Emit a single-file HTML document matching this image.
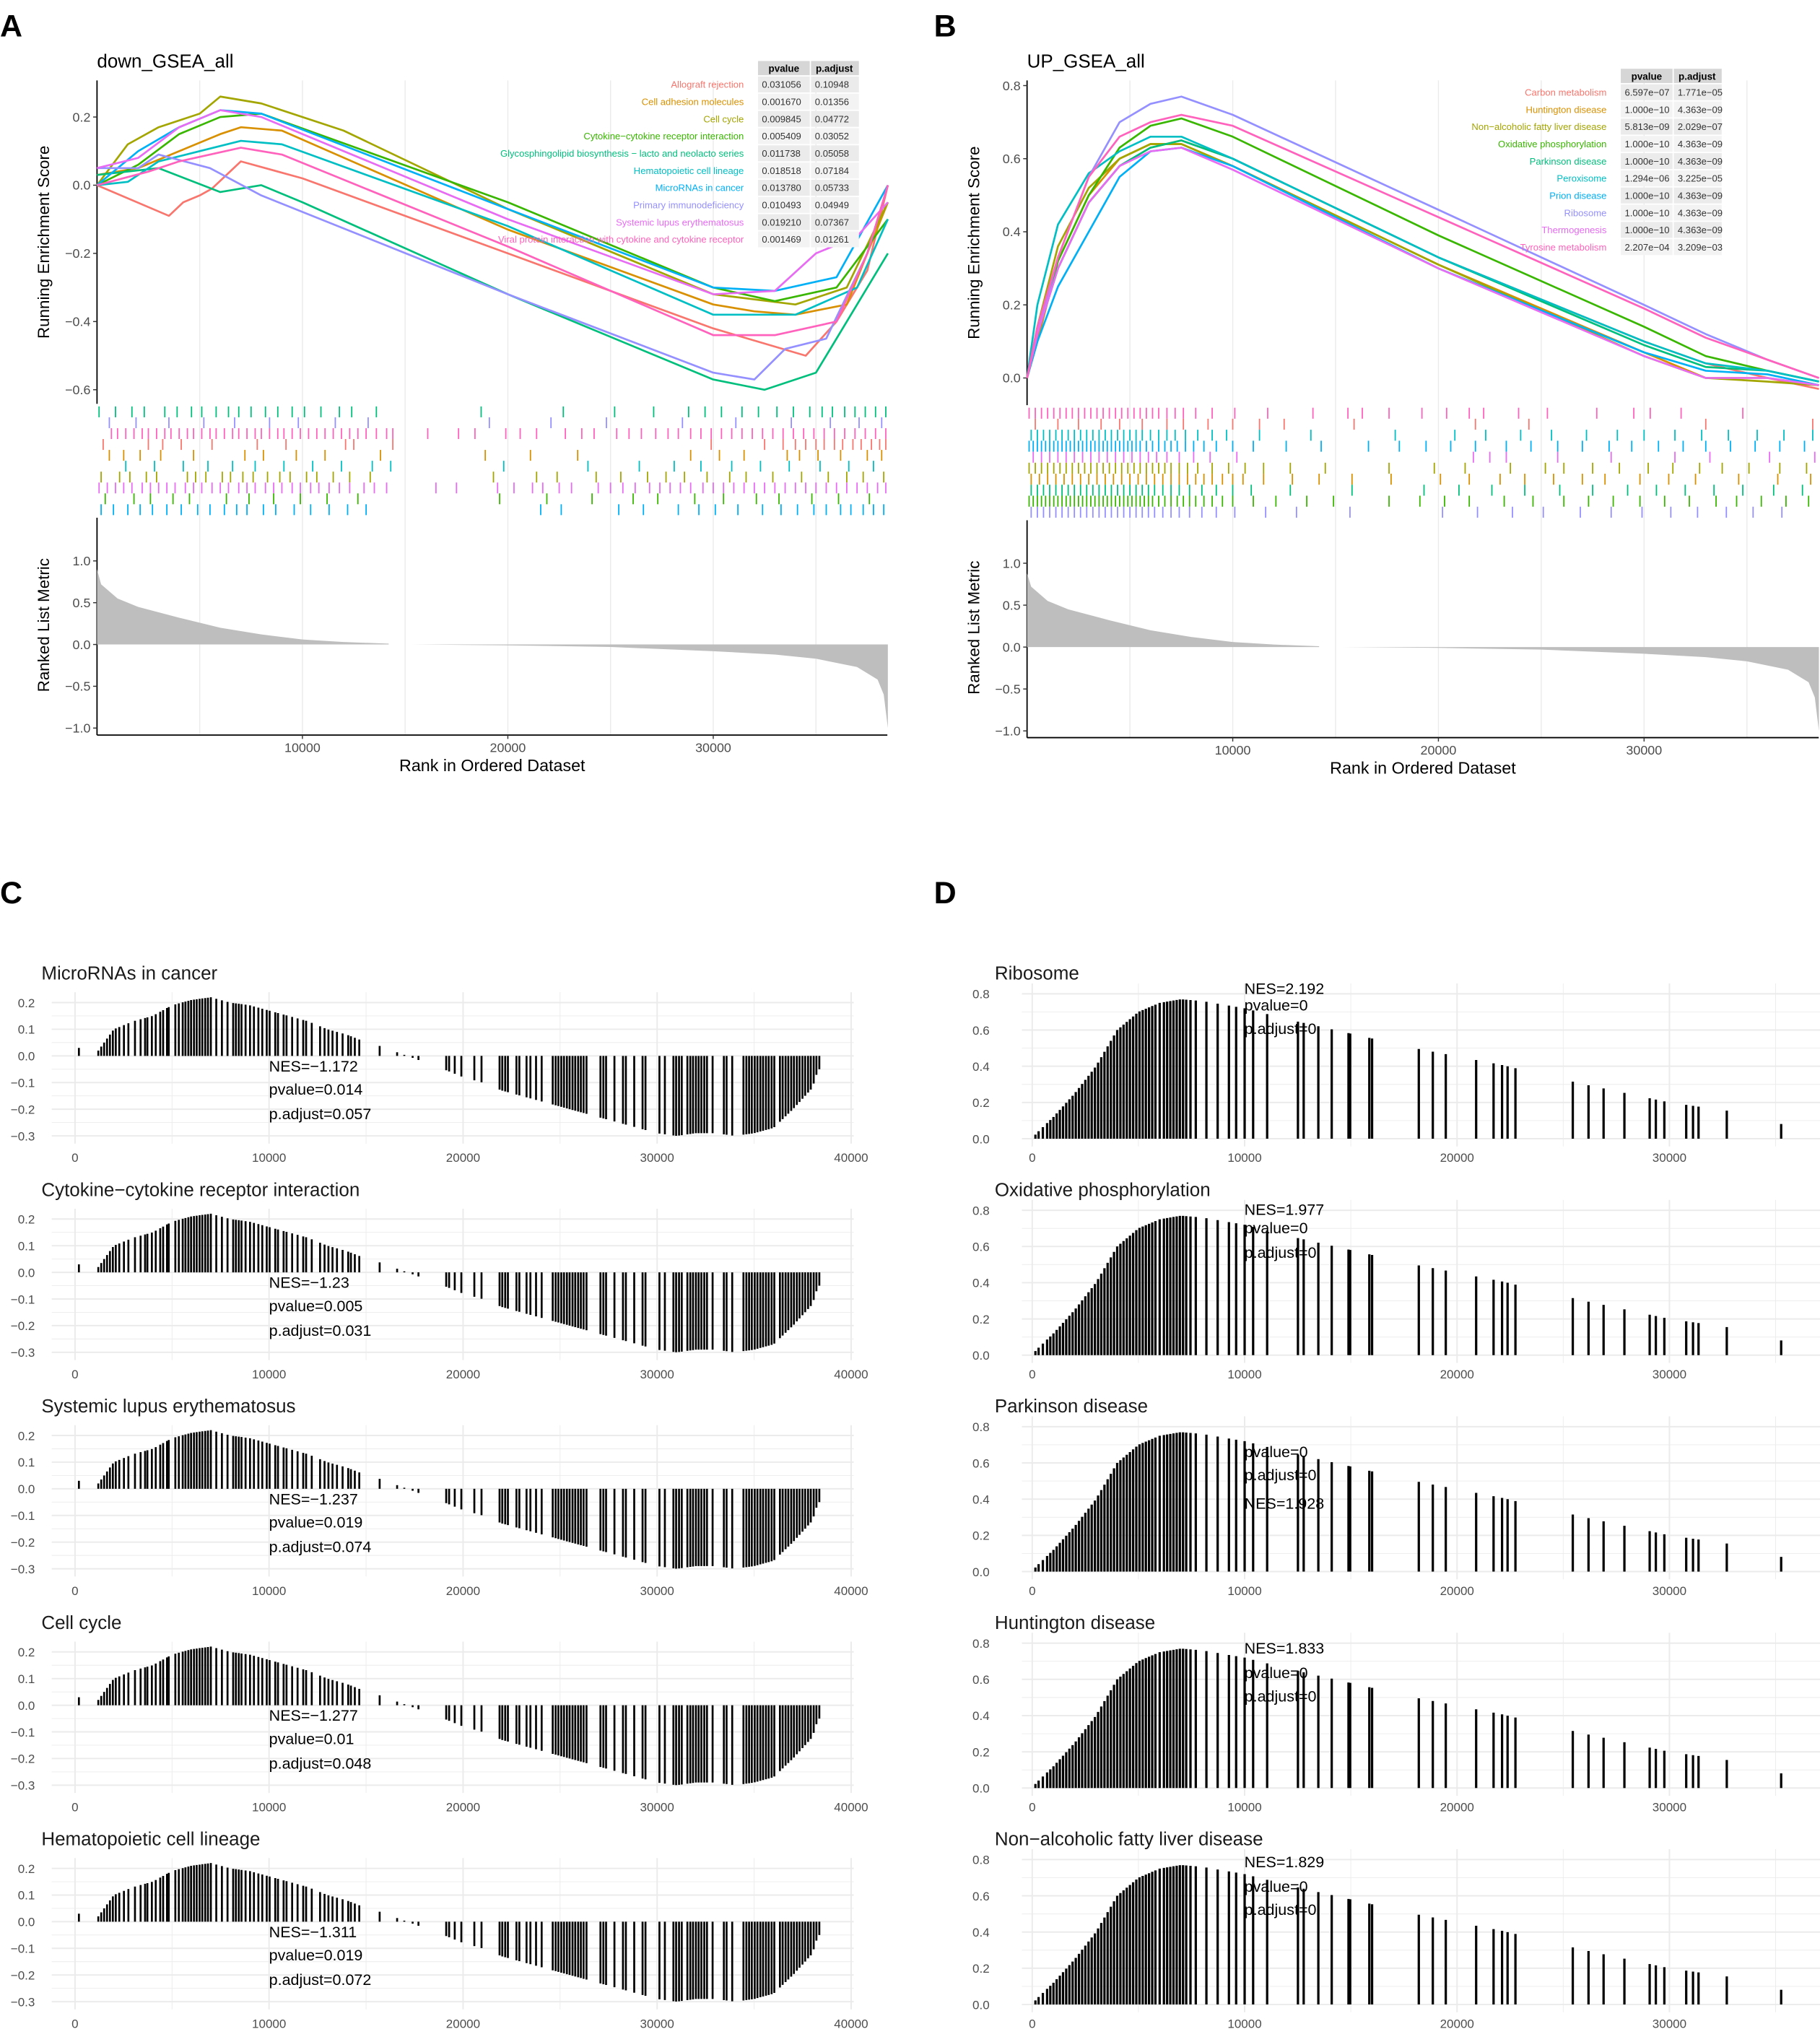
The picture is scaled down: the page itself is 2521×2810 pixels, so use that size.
<!DOCTYPE html>
<html><head><meta charset="utf-8">
<style>
html,body{margin:0;padding:0;background:#fff;}
svg{display:block;font-family:"Liberation Sans",Arial,sans-serif;}
</style></head>
<body>
<svg id="fig" xmlns="http://www.w3.org/2000/svg" width="2521" height="2810" viewBox="0 0 1407 1568">
<rect x="0" y="0" width="1407" height="1568" fill="#fff"/>
</svg>
<script>
// ---------- DATA (ranks in thousands) ----------
const colors = ["#F8766D","#D89000","#A3A500","#39B600","#00BF7D","#00BFC4","#00B0F6","#9590FF","#E76BF3","#FF62BC"];
const aNames = ["Allograft rejection","Cell adhesion molecules","Cell cycle","Cytokine\u2212cytokine receptor interaction","Glycosphingolipid biosynthesis \u2212 lacto and neolacto series","Hematopoietic cell lineage","MicroRNAs in cancer","Primary immunodeficiency","Systemic lupus erythematosus","Viral protein interaction with cytokine and cytokine receptor"];
const aPvalue = ["0.031056","0.001670","0.009845","0.005409","0.011738","0.018518","0.013780","0.010493","0.019210","0.001469"];
const aPadj = ["0.10948","0.01356","0.04772","0.03052","0.05058","0.07184","0.05733","0.04949","0.07367","0.01261"];
const aKnotK = [
 [0,3.5,4.2,5,5.6,7,10,20,30,34.5,36,37.5,38.5],
 [0,2,4,6,7,9,20,30,32,34,36.5,38.5],
 [0,1.5,3,5,6,8,12,20,30,34,36.5,38.5],
 [0,2,4,6,8,20,30,33,36,38.5],
 [0,3,6,8,10,20,30,32.5,35,37,38.5],
 [0,1.5,3,5,7,9,20,30,34,37,38.5],
 [0,2,4,6,8,20,30,33,36,38.5],
 [0,2,3,5.5,8,20,30,32,33.5,35.5,37.5,38.5],
 [0,2,4,6,8,20,30,33,35,37,38.5],
 [0,2.5,4,7,9,20,30,33,36,37.5,38.5]];
const aKnotV = [
 [0,-0.09,-0.05,-0.03,-0.01,0.07,0.02,-0.2,-0.42,-0.5,-0.4,-0.25,0],
 [0.03,0.05,0.1,0.15,0.17,0.16,-0.13,-0.35,-0.37,-0.38,-0.35,-0.05],
 [0,0.12,0.17,0.21,0.26,0.24,0.16,-0.07,-0.32,-0.35,-0.3,-0.05],
 [0,0.06,0.15,0.2,0.21,-0.05,-0.3,-0.34,-0.3,-0.1],
 [0.03,0.05,-0.02,0,-0.05,-0.32,-0.57,-0.6,-0.55,-0.35,-0.2],
 [0,0.01,0.07,0.1,0.13,0.12,-0.12,-0.38,-0.38,-0.3,-0.1],
 [0,0.1,0.17,0.22,0.21,-0.07,-0.3,-0.31,-0.27,0],
 [0.05,0.05,0.09,0.05,-0.03,-0.32,-0.55,-0.57,-0.48,-0.45,-0.2,0],
 [0.05,0.08,0.17,0.22,0.2,-0.1,-0.32,-0.31,-0.2,-0.15,-0.05],
 [0,0.04,0.07,0.11,0.09,-0.18,-0.44,-0.44,-0.4,-0.2,0]];
const aRugOrder = [4,7,9,0,1,5,2,8,3,6];
const aRug = [
 [0.3,2.5,3.2,4.1,5.6,7.8,9.2,12.1,12.5,14.4,29.9,32.5,33.4,34,34.5,35,35.4,35.9,36.3,36.8,37.2,37.7,38.1,38.4],
 [0.6,1.3,2.1,3.1,4.7,7.2,8.1,9.7,11.1,13.8,18.9,21.1,23.4,28.9,30.3,31.5,33.6,34.2,35.1,36.2,37.5,38.2],
 [0.2,1.1,1.6,2.4,2.9,4.4,4.8,5.3,6.1,6.5,7.1,7.6,8.3,8.9,9.4,10.2,10.7,11.5,12.3,13.3,19.3,21.4,22.4,24.3,25.5,26.8,27.7,28.6,29.7,30.8,31.6,32.9,34.3,35.6,36.5,37.3,38.3],
 [0.4,1.8,2.6,3.7,4.5,6.3,7.4,8.6,9.9,11.2,12.7,19.6,21.9,24.1,26.1,27.3,29.1,30.5,32.1,33.2,34.8,36.1,37.6],
 [0.1,0.9,1.7,2.3,3.3,3.9,4.6,5.1,5.8,6.4,6.9,7.5,8.2,8.8,9.5,10.1,10.9,11.8,12.4,13.6,18.7,22.7,25.2,27.1,28.8,29.6,30.4,31.4,32.2,33.1,33.9,34.7,35.3,35.8,36.4,36.9,37.4,37.9,38.4],
 [1.4,2.8,4.2,5.4,6.6,7.7,9.1,10.5,11.9,13.4,14.3,19.8,23.9,26.4,28.1,29.4,30.9,32.3,33.7,35.2,36.6,37.8],
 [0.2,0.8,1.5,2.1,2.7,3.4,4.1,4.9,5.5,6.2,6.8,7.3,8.1,8.7,9.6,10.4,11.3,12.2,13.1,21.6,22.6,25.4,26.6,28.3,29.3,30.1,31.2,32.4,33.3,34.1,34.9,35.5,36.2,36.7,37.3,37.8,38.3],
 [0.6,1.9,3.5,5.2,6.7,8.4,9.8,11.6,13.2,19.1,22.1,24.8,28.5,31.1,33.8,35.7,37.1,38.2],
 [0.1,0.5,0.9,1.3,1.7,2.2,2.6,3,3.4,3.8,4.3,4.7,5.1,5.6,6,6.4,6.9,7.3,7.7,8.2,8.6,9,9.5,9.9,10.4,10.8,11.3,11.8,12.3,13,13.5,14.1,16.5,17.5,19.5,20.3,21.2,21.7,22.5,23.1,24.4,25,25.6,26.2,26.9,27.4,27.9,28.4,28.9,29.5,30,30.5,31,31.5,32,32.5,33,33.5,34,34.5,35,35.5,36,36.5,37,37.5,38,38.4],
 [0.7,1,1.4,1.8,2.2,2.5,2.9,3.3,3.6,4,4.4,4.7,5.1,5.5,5.8,6.2,6.6,6.9,7.3,7.7,8,8.4,8.8,9.1,9.5,9.9,10.3,10.7,11.1,11.5,11.9,12.3,12.7,13.1,13.6,14.1,14.4,16.1,17.6,18.4,19.9,20.6,21.4,22.8,23.6,24.2,25.3,25.9,26.5,27.2,27.8,28.3,28.9,29.4,29.9,30.4,30.9,31.4,31.9,32.4,32.9,33.4,33.9,34.4,34.9,35.4,35.9,36.4,36.9,37.4,37.9,38.4]];
const aMetricK1 = [0,0.2,1,2,4,6,8,10,12,14.2];
const aMetricV1 = [0.9,0.72,0.55,0.45,0.32,0.2,0.12,0.06,0.03,0.01];
const aMetricK2 = [15.3,20,25,30,33,35,37,38,38.3,38.5];
const aMetricV2 = [0,-0.01,-0.03,-0.08,-0.12,-0.17,-0.27,-0.42,-0.6,-1.0];

const bNames = ["Carbon metabolism","Huntington disease","Non\u2212alcoholic fatty liver disease","Oxidative phosphorylation","Parkinson disease","Peroxisome","Prion disease","Ribosome","Thermogenesis","Tyrosine metabolism"];
const bPvalue = ["6.597e\u221207","1.000e\u221210","5.813e\u221209","1.000e\u221210","1.000e\u221210","1.294e\u221206","1.000e\u221210","1.000e\u221210","1.000e\u221210","2.207e\u221204"];
const bPadj = ["1.771e\u221205","4.363e\u221209","2.029e\u221207","4.363e\u221209","4.363e\u221209","3.225e\u221205","4.363e\u221209","4.363e\u221209","4.363e\u221209","3.209e\u221203"];
const bKnotK = [
 [0,0.5,1.5,3,4.5,6,7.5,10,20,30,33,36,38.5],
 [0,0.5,1.5,3,4.5,6,7.5,10,20,30,33,36,38.5],
 [0,0.5,1.5,3,4.5,6,7.5,10,20,30,33,36,38.5],
 [0,0.5,1.5,3,4.5,6,7.5,10,20,30,33,36,38.5],
 [0,0.5,1.5,3,4.5,6,7.5,10,20,30,33,36,38.5],
 [0,0.5,1.5,3,4.5,6,7.5,10,20,30,33,36,38.5],
 [0,0.5,1.5,3,4.5,6,7.5,10,20,30,33,36,38.5],
 [0,0.5,1.5,3,4.5,6,7.5,10,20,30,33,36,38.5],
 [0,0.5,1.5,3,4.5,6,7.5,10,20,30,33,36,38.5],
 [0,0.5,1.5,3,4.5,6,7.5,10,20,30,33,36,38.5]];
const bKnotV = [
 [0,0.12,0.3,0.48,0.58,0.63,0.65,0.6,0.33,0.1,0.04,0.0,-0.03],
 [0,0.1,0.32,0.5,0.6,0.64,0.64,0.58,0.31,0.07,0.0,0.0,-0.02],
 [0,0.14,0.36,0.52,0.6,0.64,0.64,0.58,0.31,0.06,0.0,-0.01,-0.02],
 [0,0.12,0.32,0.5,0.63,0.69,0.71,0.66,0.39,0.14,0.06,0.02,-0.01],
 [0,0.12,0.3,0.48,0.58,0.63,0.65,0.6,0.33,0.09,0.03,0.02,-0.01],
 [0,0.2,0.42,0.56,0.62,0.66,0.66,0.6,0.33,0.1,0.04,0.02,-0.01],
 [0,0.1,0.25,0.4,0.55,0.62,0.63,0.58,0.3,0.07,0.02,0.01,-0.02],
 [0,0.12,0.33,0.55,0.7,0.75,0.77,0.72,0.46,0.2,0.12,0.05,0.0],
 [0,0.12,0.3,0.48,0.58,0.62,0.63,0.57,0.3,0.06,0.0,0.0,-0.02],
 [0,0.14,0.33,0.55,0.66,0.7,0.72,0.69,0.44,0.19,0.11,0.05,0.0]];
const bRugOrder = [9,0,5,6,8,2,1,4,3,7];
const bRug = [
 [0.4,1.5,2.5,3.6,4.5,5.6,6.8,7.6,8.8,10,11.3,12.5,15.9,21.8,24.4,33,38.2],
 [0.2,0.6,1,1.4,1.8,2.2,2.6,3,3.4,3.8,4.2,4.6,5,5.4,5.8,6.2,6.6,7,7.4,7.8,8.2,8.6,9,9.5,10,10.5,11.5,12.9,14.2,15.8,17.7,20.1,21.5,23,24.2,25.6,27,28.1,29.8,31.2,32.5,34.6,36.5,38.1],
 [0.1,0.4,0.7,1,1.3,1.6,1.9,2.2,2.5,2.8,3.1,3.4,3.7,4,4.3,4.6,4.9,5.2,5.5,5.8,6.1,6.4,6.7,7,7.4,7.8,8.3,9,9.8,10.6,11.5,12.8,14.5,17.6,19.8,21.3,23.5,25.2,26.1,27.5,28.8,30.2,31.4,32.7,33.8,35.1,36.6,37.9],
 [0.1,0.3,0.5,0.7,0.9,1.1,1.3,1.5,1.7,1.9,2.1,2.3,2.5,2.7,2.9,3.1,3.3,3.5,3.7,3.9,4.1,4.3,4.5,4.7,4.9,5.1,5.3,5.5,5.7,5.9,6.1,6.4,6.7,7,7.3,7.6,7.9,8.2,8.6,9,9.5,10,11,12.1,13.6,14.9,17.6,19.1,20.3,21.5,23.2,24.6,26.1,27.3,28.5,29.8,31,32.2,33.5,34.5,35.7,36.9,38],
 [0.2,0.5,0.8,1.1,1.4,1.7,2,2.3,2.6,2.9,3.2,3.5,3.8,4.1,4.4,4.7,5,5.3,5.6,5.9,6.2,6.6,7,7.4,7.9,8.5,9.2,10,10.9,12.8,15.8,19.3,21,22.6,24.2,25.9,27.5,29.2,30.6,32,33.4,34.8,36.3,37.7],
 [0.2,0.5,0.8,1.1,1.4,1.7,2,2.3,2.6,2.9,3.2,3.5,3.8,4.1,4.4,4.7,5,5.3,5.6,6,6.4,6.8,7.2,7.7,8.3,9,9.7,11.3,13.8,17.9,20.8,22.3,24,25.5,27.2,28.7,30,31.5,32.8,34.1,35.5,36.8,38.2],
 [0.1,0.3,0.5,0.7,0.9,1.1,1.3,1.5,1.7,1.9,2.1,2.3,2.5,2.7,2.9,3.1,3.3,3.5,3.7,3.9,4.1,4.3,4.5,4.7,4.9,5.1,5.3,5.5,5.8,6.1,6.4,6.7,7,7.3,7.7,8.1,8.6,9.2,10,11,12.6,14.3,16.6,18.1,19.4,20.6,21.8,23.3,24.5,25.8,27,28.3,29.4,30.7,31.9,33,34.2,35.4,36.6,37.8],
 [0.2,0.5,0.8,1.1,1.4,1.7,2,2.3,2.6,2.9,3.2,3.5,3.8,4.1,4.4,4.7,5,5.3,5.6,5.9,6.2,6.6,7,7.4,7.9,8.5,9.2,10.1,11.6,13.1,15.7,20.2,21.9,23.6,25.1,26.9,28.4,29.9,31.3,32.6,34,35.3,36.7],
 [0.3,0.7,1.1,1.5,1.9,2.3,2.7,3.1,3.5,3.9,4.3,4.7,5.1,5.5,5.9,6.3,6.8,7.4,8.1,8.9,10.2,21.7,22.5,23.3,25.8,28.4,31.5,33.2,36.1,38.3],
 [0.1,0.4,0.7,1,1.3,1.6,1.9,2.2,2.5,2.8,3.1,3.4,3.7,4,4.3,4.6,4.9,5.2,5.5,5.8,6.1,6.4,6.8,7.2,7.6,8.2,9,10.1,11.7,13.9,15.6,16.3,17.6,19.2,20.4,21.5,22.2,23.9,25.3,27.7,29.5,30.3,31.8,34.8]];
const bMetricK1 = [0,0.2,1,2,4,6,8,10,12,14.2];
const bMetricV1 = [0.88,0.72,0.55,0.45,0.32,0.2,0.12,0.06,0.03,0.01];
const bMetricK2 = [15.3,20,25,30,33,35,37,38,38.3,38.5];
const bMetricV2 = [0,-0.01,-0.03,-0.08,-0.12,-0.17,-0.27,-0.42,-0.6,-1.0];

const cKnotK = [0.2,1.2,2,3,4,5,6,7,8,9,10,11,12,13,14,14.7,15.6,17.5,19,20,21,22,23,24,25,26,27,28,29,30,31,32,33,34,35,36,37,38,38.3];
const cKnotV = [0.03,0.02,0.1,0.13,0.15,0.19,0.21,0.22,0.2,0.19,0.17,0.15,0.13,0.1,0.08,0.06,0.04,-0.01,-0.05,-0.08,-0.1,-0.13,-0.15,-0.17,-0.19,-0.21,-0.23,-0.25,-0.27,-0.29,-0.3,-0.29,-0.29,-0.3,-0.29,-0.27,-0.2,-0.12,-0.05];
const cHits = [0.2,1.2,1.35,1.5,1.65,1.8,1.95,2.1,2.28,2.52,2.75,3.09,3.38,3.61,3.73,3.96,4.16,4.39,4.54,4.74,4.83,5.17,5.35,5.55,5.69,5.84,5.98,6.13,6.27,6.42,6.56,6.71,6.85,7.0,7.28,7.57,7.86,8.15,8.29,8.44,8.58,8.79,9.02,9.22,9.45,9.65,9.88,10.03,10.32,10.46,10.75,10.9,11.19,11.47,11.76,11.91,12.2,12.63,12.86,13.06,13.27,13.5,13.79,14.08,14.22,14.42,14.65,15.7,16.6,16.97,17.4,17.7,19.13,19.28,19.57,19.91,20.58,20.95,21.88,22.02,22.17,22.31,22.75,22.9,23.27,23.47,23.76,24.05,24.62,24.77,24.91,25.06,25.2,25.35,25.49,25.64,25.78,25.93,26.07,26.21,26.36,27.08,27.23,27.37,27.8,28.24,28.39,28.82,29.25,29.4,30.12,30.4,30.84,30.98,31.13,31.27,31.56,31.71,31.85,32.0,32.14,32.28,32.43,32.57,32.86,33.44,33.58,33.87,34.45,34.6,34.74,34.88,35.03,35.17,35.32,35.46,35.61,35.75,35.9,36.04,36.33,36.47,36.62,36.76,36.91,37.05,37.2,37.34,37.49,37.63,37.78,37.92,38.07,38.21,38.36];
const cTitles = ["MicroRNAs in cancer","Cytokine\u2212cytokine receptor interaction","Systemic lupus erythematosus","Cell cycle","Hematopoietic cell lineage"];
const cNES = ["NES=\u22121.172","NES=\u22121.23","NES=\u22121.237","NES=\u22121.277","NES=\u22121.311"];
const cPval = ["pvalue=0.014","pvalue=0.005","pvalue=0.019","pvalue=0.01","pvalue=0.019"];
const cPadj = ["p.adjust=0.057","p.adjust=0.031","p.adjust=0.074","p.adjust=0.048","p.adjust=0.072"];

const dKnotK = [0,0.2,1,2,3,4,5,6,7,8,10,12,15,18,22,26,30,33,35.3];
const dKnotV = [0,0.03,0.12,0.25,0.4,0.6,0.7,0.75,0.77,0.76,0.72,0.66,0.58,0.5,0.41,0.3,0.2,0.15,0.08];
const dHits = [0.15,0.3,0.5,0.7,0.85,1,1.15,1.3,1.45,1.6,1.75,1.9,2.05,2.2,2.35,2.5,2.65,2.8,2.95,3.1,3.25,3.4,3.55,3.7,3.85,4,4.15,4.3,4.45,4.6,4.75,4.9,5.05,5.2,5.35,5.5,5.65,5.8,6,6.2,6.35,6.5,6.65,6.8,6.95,7.1,7.25,7.45,7.7,8.2,8.73,9.26,9.6,10,10.4,11.06,12.51,12.78,13.47,14.1,14.89,14.97,15.87,16,18.2,18.86,19.47,20.9,21.72,22.12,22.38,22.75,25.45,26.19,26.9,27.88,29.07,29.36,29.76,30.79,31.11,31.37,32.7,35.26];
const dTitles = ["Ribosome","Oxidative phosphorylation","Parkinson disease","Huntington disease","Non\u2212alcoholic fatty liver disease"];
const dNES = ["NES=2.192","NES=1.977","NES=1.928","NES=1.833","NES=1.829"];

// ---------- helpers ----------
const NS="http://www.w3.org/2000/svg";
const svg=document.getElementById('fig');
function mk(tag,attrs,parent){const e=document.createElementNS(NS,tag);for(const k in attrs)e.setAttribute(k,attrs[k]);(parent||svg).appendChild(e);return e;}
function txt(s,x,y,size,attrs,parent){const t=mk('text',Object.assign({x:x,y:y,'font-size':size,fill:'#000'},attrs||{}),parent);t.textContent=s;return t;}
function interp(xs,ys,x){if(x<=xs[0])return ys[0];for(let i=1;i<xs.length;i++){if(x<=xs[i]){const f=(x-xs[i-1])/(xs[i]-xs[i-1]);return ys[i-1]+f*(ys[i]-ys[i-1]);}}return ys[ys.length-1];}
function fmt(v){return (v<0?'\u2212':'')+Math.abs(v).toFixed(1);}

[["A",0,28],["B",722,28],["C",0,698],["D",722,698]].forEach(p=>{
  const t=txt(p[0],p[1],p[2],24,{'font-weight':'bold'});
  
  
});

function gseaPanel(cfg){
  const g=mk('g',{});
  
  
  const X=k=>cfg.x0+k*cfg.xs;
  const Y=v=>cfg.y0-v*cfg.ys;
  const Ym=v=>cfg.m0-v*cfg.ms;
  for(let k=5;k<=35;k+=5){
    const l=mk('line',{x1:X(k),x2:X(k),y1:cfg.top,y2:cfg.bottom,stroke:'#ebebeb','stroke-width':0.8},g);
    
    
  }
  const tt=txt(cfg.title,cfg.x0,cfg.top-10,14.5,{},g);
  
  
  mk('line',{x1:cfg.x0,x2:cfg.x0,y1:cfg.top,y2:cfg.topEnd,stroke:'#000','stroke-width':1},g);
  mk('line',{x1:cfg.x0,x2:cfg.x0,y1:cfg.rugEnd+2,y2:cfg.bottom,stroke:'#000','stroke-width':1},g);
  mk('line',{x1:cfg.x0,x2:cfg.xEnd,y1:cfg.bottom,y2:cfg.bottom,stroke:'#000','stroke-width':1},g);
  cfg.esTicks.forEach(v=>{
    mk('line',{x1:cfg.x0-3,x2:cfg.x0,y1:Y(v),y2:Y(v),stroke:'#333','stroke-width':0.8},g);
    const t=txt(fmt(v),cfg.x0-5,Y(v)+3.5,10,{'text-anchor':'end',fill:'#4d4d4d'},g);
    
    
  });
  [1.0,0.5,0.0,-0.5,-1.0].forEach(v=>{
    mk('line',{x1:cfg.x0-3,x2:cfg.x0,y1:Ym(v),y2:Ym(v),stroke:'#333','stroke-width':0.8},g);
    const t=txt(fmt(v),cfg.x0-5,Ym(v)+3.5,10,{'text-anchor':'end',fill:'#4d4d4d'},g);
    
    
  });
  [10,20,30].forEach(k=>{
    mk('line',{x1:X(k),x2:X(k),y1:cfg.bottom,y2:cfg.bottom+3,stroke:'#333','stroke-width':0.8},g);
    const t=txt(String(k*1000),X(k),cfg.bottom+13,10,{'text-anchor':'middle',fill:'#4d4d4d'},g);
    
    
  });
  const xl=txt('Rank in Ordered Dataset',(cfg.x0+cfg.xEnd)/2,cfg.bottom+28,13,{'text-anchor':'middle'},g);
  
  
  const yl=txt('Running Enrichment Score',0,0,12.5,{'text-anchor':'middle',transform:`translate(${cfg.x0-37},${(cfg.top+cfg.topEnd)/2}) rotate(-90)`},g);
  
  
  const yl2=txt('Ranked List Metric',0,0,12.5,{'text-anchor':'middle',transform:`translate(${cfg.x0-37},${(cfg.rugEnd+cfg.bottom)/2}) rotate(-90)`},g);
  
  
  [[cfg.mK1,cfg.mV1],[cfg.mK2,cfg.mV2]].forEach(seg=>{
    let d=`M${X(seg[0][0])},${Ym(0)}`;
    seg[0].forEach((k,i)=>{d+=` L${X(k)},${Ym(seg[1][i])}`;});
    d+=` L${X(seg[0][seg[0].length-1])},${Ym(0)} Z`;
    const p=mk('path',{d:d,fill:'#bebebe',stroke:'none'},g);
    
    
  });
  const rh=(cfg.rugEnd-cfg.rugStart)/cfg.rugOrder.length;
  cfg.rugOrder.forEach((si,row)=>{
    const y1=cfg.rugStart+row*rh, y2=y1+rh;
    cfg.rug[si].forEach(k=>{
      const l=mk('line',{x1:X(k),x2:X(k),y1:y1,y2:y2,stroke:colors[si],'stroke-width':1.0},g);
      
      
    });
  });
  cfg.knotK.forEach((ks,si)=>{
    const pts=ks.map((k,i)=>`${X(k).toFixed(1)},${Y(cfg.knotV[si][i]).toFixed(1)}`).join(' ');
    const pl=mk('polyline',{points:pts,fill:'none',stroke:colors[si],'stroke-width':1.5,'stroke-linejoin':'round'},g);
    
    
  });
  const tx=cfg.tabX, rowH=13.3;
  const hdr=mk('g',{},g);
  
  
  mk('rect',{x:tx,y:cfg.tabY,width:40,height:11,fill:'#d6d6d6'},hdr);
  mk('rect',{x:tx+41,y:cfg.tabY,width:37,height:11,fill:'#d6d6d6'},hdr);
  txt('pvalue',tx+20,cfg.tabY+8.5,7.5,{'text-anchor':'middle','font-weight':'bold'},hdr);
  txt('p.adjust',tx+59,cfg.tabY+8.5,7.5,{'text-anchor':'middle','font-weight':'bold'},hdr);
  cfg.names.forEach((n,i)=>{
    const ry=cfg.tabY+12+i*rowH;
    const fill=i%2===0?'#ebebeb':'#f3f3f3';
    mk('rect',{x:tx,y:ry,width:40,height:rowH-1,fill:fill},hdr);
    mk('rect',{x:tx+41,y:ry,width:37,height:rowH-1,fill:fill},hdr);
    const le=txt(n,tx-11,ry+8.8,7.3,{'text-anchor':'end',fill:colors[i]},hdr);
    
    
    txt(cfg.pv[i],tx+3,ry+8.8,7.3,{fill:'#333'},hdr);
    txt(cfg.pa[i],tx+44,ry+8.8,7.3,{fill:'#333'},hdr);
  });
}
gseaPanel({name:'panel-a-down-gsea',title:'down_GSEA_all',x0:75,xs:15.88,xEnd:686,y0:143,ys:263.5,top:62,topEnd:312,rugStart:314,rugEnd:398,m0:498,ms:64.6,bottom:568,
  esTicks:[0.2,0.0,-0.2,-0.4,-0.6],knotK:aKnotK,knotV:aKnotV,rug:aRug,rugOrder:aRugOrder,mK1:aMetricK1,mV1:aMetricV1,mK2:aMetricK2,mV2:aMetricV2,
  names:aNames,pv:aPvalue,pa:aPadj,tabX:586,tabY:47});
gseaPanel({name:'panel-b-up-gsea',title:'UP_GSEA_all',x0:794,xs:15.9,xEnd:1406,y0:292,ys:282.5,top:62,topEnd:313,rugStart:315,rugEnd:400,m0:500,ms:64.8,bottom:570,
  esTicks:[0.8,0.6,0.4,0.2,0.0],knotK:bKnotK,knotV:bKnotV,rug:bRug,rugOrder:bRugOrder,mK1:bMetricK1,mV1:bMetricV1,mK2:bMetricK2,mV2:bMetricV2,
  names:bNames,pv:bPvalue,pa:bPadj,tabX:1253,tabY:53});

function barPlot(cfg,i){
  const oy=i*167.3;
  const g=mk('g',{});
  
  
  const X=k=>cfg.x0+k*cfg.xs;
  const Y=v=>cfg.y0+oy-v*cfg.ys;
  for(let v=cfg.vmin;v<=cfg.vmax+1e-9;v+=cfg.vstep/2){
    const major=Math.abs(Math.round(v/cfg.vstep)*cfg.vstep-v)<1e-6;
    mk('line',{x1:cfg.gx0,x2:cfg.gx1,y1:Y(v),y2:Y(v),stroke:'#ebebeb','stroke-width':major?1.1:0.5},g);
  }
  for(let k=0;k<=cfg.kmax;k+=5){
    mk('line',{x1:X(k),x2:X(k),y1:Y(cfg.vmax)-8,y2:Y(cfg.vmin)+6,stroke:'#ebebeb','stroke-width':k%10===0?1.1:0.5},g);
  }
  for(let v=cfg.vmin;v<=cfg.vmax+1e-9;v+=cfg.vstep){
    const t=txt(fmt(Math.round(v*10)/10),cfg.labX,Y(v)+3.5,9.5,{'text-anchor':'end',fill:'#4d4d4d'},g);
    
    
  }
  cfg.xticks.forEach(k=>{
    const t=txt(String(k*1000),X(k),cfg.xlabY+oy,9.5,{'text-anchor':'middle',fill:'#4d4d4d'},g);
    
    
  });
  const ti=txt(cfg.titles[i],cfg.titleX,757+oy,14.5,{fill:'#1a1a1a'},g);
  
  
  cfg.hits.forEach(k=>{
    const v=interp(cfg.knotK,cfg.knotV,k);
    const b=mk('line',{x1:X(k),x2:X(k),y1:Y(0),y2:Y(v),stroke:'#000','stroke-width':cfg.bw},g);
    
    
  });
  cfg.texts(i).forEach(t=>{
    const e=txt(t[0],t[1],t[2]+oy,12,{fill:'#000'},g);
    
    
  });
}
const cCfg={name:'panel-c-plot',x0:58,xs:15,ys:206,y0:816,vmin:-0.3,vmax:0.2,vstep:0.1,gx0:40,gx1:660,kmax:40,labX:27,xlabY:898,bw:1.5,
  xticks:[0,10,20,30,40],titles:cTitles,titleX:32,hits:cHits,knotK:cKnotK,knotV:cKnotV,
  texts:i=>[[cNES[i],208,828],[cPval[i],208,846],[cPadj[i],208,865]]};
for(let i=0;i<5;i++)barPlot(cCfg,i);
const dPos=[
 [[dNES[0],962,768],["pvalue=0",962,781],["p.adjust=0",962,799]],
 [[dNES[1],962,939],["pvalue=0",962,953],["p.adjust=0",962,972]],
 [["pvalue=0",962,1126],["p.adjust=0",962,1144],[dNES[2],962,1166]],
 [[dNES[3],962,1278],["pvalue=0",962,1297],["p.adjust=0",962,1315]],
 [[dNES[4],962,1443],["pvalue=0",962,1462],["p.adjust=0",962,1480]]];
const dCfg={name:'panel-d-plot',x0:798,xs:16.42,ys:140,y0:880,vmin:0,vmax:0.8,vstep:0.2,gx0:790,gx1:1407,kmax:35,labX:765,xlabY:898,bw:1.8,
  xticks:[0,10,20,30],titles:dTitles,titleX:769,hits:dHits,knotK:dKnotK,knotV:dKnotV,
  texts:i=>dPos[i].map(t=>[t[0],t[1],t[2]-i*167.3])};
for(let i=0;i<5;i++)barPlot(dCfg,i);
</script>
</body></html>
